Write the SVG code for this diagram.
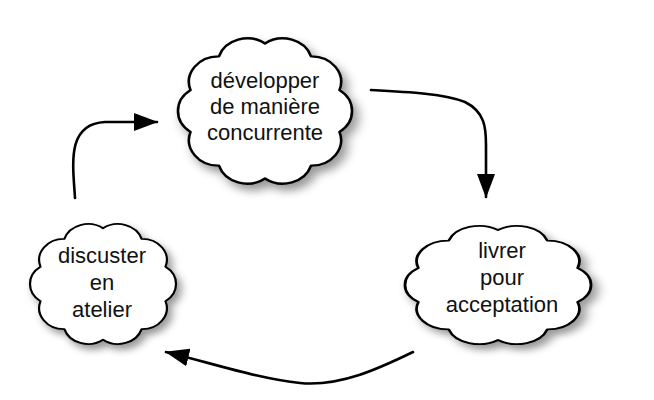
<svg xmlns="http://www.w3.org/2000/svg" width="654" height="400" viewBox="0 0 654 400">
<style>
.cloud{fill:#fff;stroke:#000;stroke-width:3;stroke-linejoin:round;vector-effect:non-scaling-stroke}
.lbl{font-family:"Liberation Sans",Arial,sans-serif;font-size:22px;fill:#111;text-anchor:middle}
.conn{fill:none;stroke:#000;stroke-width:2.6;stroke-linecap:round}
</style>
<defs>
<filter id="sh" x="-20%" y="-20%" width="150%" height="150%">
<feDropShadow dx="6" dy="8" stdDeviation="6" flood-color="#000" flood-opacity="0.4"/>
</filter>
<path id="cl" d="M85.6,-27.8 A34,34 0 0 1 85.6,27.8 A34,34 0 0 1 52.9,72.8 A34,34 0 0 1 0,90 A34,34 0 0 1 -52.9,72.8 A34,34 0 0 1 -85.6,27.8 A34,34 0 0 1 -85.6,-27.8 A34,34 0 0 1 -52.9,-72.8 A34,34 0 0 1 0,-90 A34,34 0 0 1 52.9,-72.8 A34,34 0 0 1 85.6,-27.8 Z"/>
<marker id="ah" markerUnits="userSpaceOnUse" markerWidth="24" markerHeight="18" viewBox="0 0 24 18" refX="23" refY="9" orient="auto">
<path d="M0,0 L24,9 L0,18 Z" fill="#000"/>
</marker>
</defs>
<g id="node-developper">
<use href="#cl" class="cloud" filter="url(#sh)" transform="translate(265,111) scale(0.87,0.75)"/>
<text class="lbl" x="265" y="88">développer</text>
<text class="lbl" x="265" y="114">de manière</text>
<text class="lbl" x="265" y="140">concurrente</text>
</g>
<g id="node-livrer">
<use href="#cl" class="cloud" filter="url(#sh)" transform="translate(498,285) scale(0.93,0.61)"/>
<text class="lbl" x="502" y="258">livrer</text>
<text class="lbl" x="502" y="285">pour</text>
<text class="lbl" x="502" y="312">acceptation</text>
</g>
<g id="node-discuster">
<use href="#cl" class="cloud" filter="url(#sh)" transform="translate(103,284) scale(0.73,0.62)"/>
<text class="lbl" x="102" y="263">discuster</text>
<text class="lbl" x="102" y="290">en</text>
<text class="lbl" x="102" y="317">atelier</text>
</g>
<g id="connectors">
<path class="conn" d="M75,198 C73,165 66,124 105,122 L157,122" marker-end="url(#ah)"/>
<path class="conn" d="M371,90 C410,92 445,94 465,102 C485,112 486,128 486,145 L486,197" marker-end="url(#ah)"/>
<path class="conn" d="M413,352 C380,368 340,387 300,383 C260,379 215,364 166,352" marker-end="url(#ah)"/>
</g>
</svg>
